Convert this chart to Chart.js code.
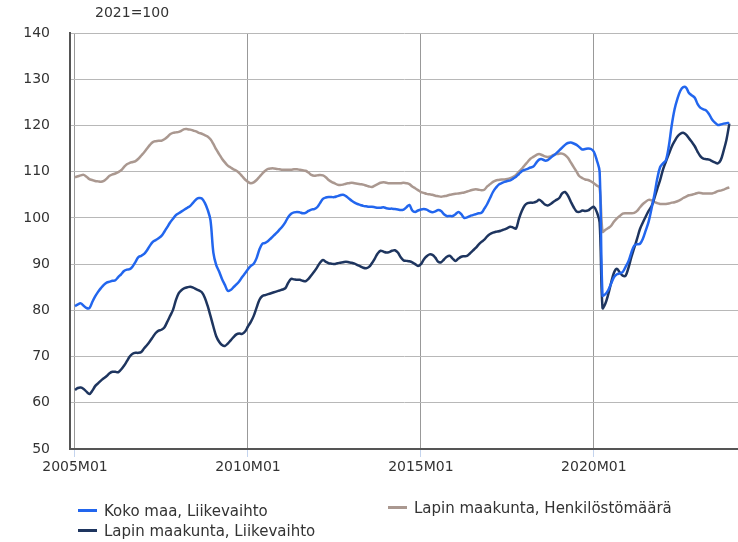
<!DOCTYPE html>
<html>
<head>
<meta charset="utf-8">
<script src="https://cdn.jsdelivr.net/npm/chart.js@4/dist/chart.umd.min.js"></script>
<style>
  body { margin: 0; background: #fff; font-family: "DejaVu Sans", sans-serif; color: #333; }
  #wrap { position: relative; width: 738px; height: 542px; overflow: hidden; }
  #base { position: absolute; left: 95px; top: 4px; font-size: 14px; }
  .item { position: absolute; font-size: 15px; line-height: 18px; white-space: nowrap; }
  .item span { display: inline-block; width: 19px; height: 3px; margin-right: 7px; vertical-align: middle; position: relative; top: -1px; }
</style>
</head>
<body>
<div id="wrap">
  <canvas id="chart" width="738" height="542"></canvas>
  <div id="base">2021=100</div>
  <div id="legend"></div>
</div>
<script>
// monthly index values 2005M01 - 2023M12 (2021=100)
const kokoMaaLiikevaihto = [
  80.9, 81.3, 81.5, 81.0, 80.5, 80.5, 81.8, 83.0, 84.0, 84.8, 85.5, 86.0,
  86.2, 86.4, 86.5, 87.2, 87.8, 88.5, 88.8, 88.9, 89.5, 90.5, 91.5, 91.8,
  92.2, 93.0, 94.0, 94.8, 95.2, 95.6, 96.1, 97.0, 98.0, 99.0, 99.8, 100.6,
  101.0, 101.4, 101.8, 102.2, 102.6, 103.3, 104.0, 104.3, 104.2, 103.3, 101.8, 99.5,
  92.5, 89.8, 88.4, 86.8, 85.5, 84.2, 84.4, 85.0, 85.6, 86.3, 87.2, 88.0,
  88.9, 89.6, 90.1, 91.3, 93.2, 94.4, 94.6, 95.0, 95.6, 96.2, 96.8, 97.5,
  98.2, 99.1, 100.2, 100.9, 101.2, 101.3, 101.2, 101.0, 101.1, 101.5, 101.8, 101.9,
  102.3, 103.2, 104.1, 104.4, 104.5, 104.5, 104.5, 104.7, 104.9, 105.0, 104.7, 104.2,
  103.7, 103.3, 103.0, 102.8, 102.6, 102.5, 102.4, 102.4, 102.3, 102.2, 102.2, 102.3,
  102.1, 102.0, 102.0, 101.9, 101.8, 101.7, 101.8, 102.3, 102.8, 101.6, 101.3, 101.6,
  101.8, 101.9, 101.8, 101.4, 101.2, 101.4, 101.7, 101.5, 100.8, 100.4, 100.4, 100.4,
  100.8, 101.3, 100.8, 100.0, 100.1, 100.4, 100.6, 100.8, 101.0, 101.1, 102.0, 103.0,
  104.3, 105.6, 106.5, 107.2, 107.5, 107.8, 108.0, 108.1, 108.5, 108.9, 109.5, 110.1,
  110.4, 110.6, 110.9, 111.1, 111.9, 112.6, 112.7, 112.4, 112.5, 113.0, 113.5, 114.0,
  114.6, 115.2, 115.8, 116.2, 116.3, 116.1, 115.8, 115.3, 114.8, 114.9, 115.0, 114.9,
  114.3, 112.5, 110.0, 83.2, 83.5, 84.4, 85.8, 87.2, 87.8, 88.0, 88.3, 89.4,
  90.6, 92.5, 94.0, 94.3, 94.4, 95.5, 97.3, 99.2, 102.0, 105.0, 108.5, 111.0,
  111.8, 112.5, 115.5, 120.0, 123.5, 125.8, 127.5, 128.3, 128.2, 127.0, 126.5, 126.0,
  124.6, 123.8, 123.5, 123.2, 122.4, 121.3, 120.6, 120.1, 120.2, 120.4, 120.5, 120.5,
];

const lappiLiikevaihto = [
  62.8, 63.2, 63.3, 63.0, 62.4, 61.9, 62.6, 63.6, 64.2, 64.8, 65.3, 65.8,
  66.4, 66.7, 66.7, 66.6, 67.2, 68.0, 69.0, 70.0, 70.6, 70.8, 70.8, 71.0,
  71.8, 72.5, 73.3, 74.2, 75.1, 75.6, 75.8, 76.3, 77.5, 78.8, 80.1, 82.2,
  83.7, 84.4, 84.8, 85.0, 85.1, 84.9, 84.6, 84.3, 83.9, 82.8, 81.0, 78.8,
  76.5, 74.4, 73.2, 72.5, 72.3, 72.8, 73.5, 74.2, 74.8, 75.0, 74.9, 75.4,
  76.5, 77.5, 78.8, 80.6, 82.3, 83.1, 83.3, 83.5, 83.7, 83.9, 84.1, 84.3,
  84.5, 84.8, 86.0, 86.8, 86.7, 86.6, 86.6, 86.4, 86.3, 86.8, 87.6, 88.4,
  89.3, 90.3, 90.9, 90.5, 90.2, 90.1, 90.0, 90.2, 90.3, 90.4, 90.5, 90.4,
  90.3, 90.1, 89.8, 89.5, 89.2, 89.1, 89.4, 90.2, 91.2, 92.3, 92.9, 92.7,
  92.5, 92.6, 92.9, 93.0, 92.5, 91.5, 90.8, 90.7, 90.6, 90.4, 90.0, 89.6,
  90.0, 91.0, 91.7, 92.1, 92.0, 91.4, 90.5, 90.4, 91.0, 91.6, 91.8, 91.2,
  90.7, 91.2, 91.6, 91.7, 91.8, 92.3, 92.9, 93.5, 94.2, 94.8, 95.3, 96.0,
  96.5, 96.8, 97.0, 97.1, 97.3, 97.5, 97.8, 98.1, 97.9, 97.7, 99.8, 101.5,
  102.7, 103.2, 103.3, 103.3, 103.5, 103.9, 103.5, 102.9, 102.7, 103.0, 103.5, 103.9,
  104.3, 105.3, 105.6, 104.8, 103.5, 102.3, 101.4, 101.3, 101.6, 101.5, 101.6, 102.1,
  102.4, 101.3, 99.0, 80.5, 81.5, 83.5, 86.0, 88.2, 89.0, 88.2, 87.5, 87.5,
  89.2, 91.5, 93.5, 95.5, 97.6, 99.0, 100.3, 101.5, 102.5, 104.3, 106.3, 108.2,
  110.5, 112.2, 113.8, 115.4, 116.6, 117.6, 118.2, 118.4, 118.0, 117.2, 116.4, 115.5,
  114.3, 113.3, 112.8, 112.7, 112.6, 112.3, 112.0, 111.8, 112.5, 114.5, 116.9, 120.4,
];

const lappiHenkilosto = [
  108.8, 109.0, 109.2, 109.3, 108.9, 108.4, 108.2, 108.0, 107.9, 107.8, 108.0, 108.5,
  109.1, 109.4, 109.6, 109.9, 110.3, 111.0, 111.6, 111.9, 112.1, 112.3, 112.8, 113.5,
  114.2, 115.0, 115.8, 116.4, 116.6, 116.7, 116.7, 117.0, 117.5, 118.1, 118.4, 118.5,
  118.6, 118.9, 119.2, 119.2, 119.1, 118.9, 118.7, 118.4, 118.2, 117.9, 117.6, 117.0,
  116.0, 114.8, 113.8, 112.8, 112.0, 111.3, 110.9, 110.5, 110.2, 109.7, 109.0, 108.3,
  107.8, 107.5, 107.7, 108.2, 108.9, 109.6, 110.2, 110.6, 110.7, 110.7, 110.6, 110.5,
  110.4, 110.4, 110.4, 110.4, 110.5, 110.5, 110.4, 110.3, 110.2, 109.8, 109.3, 109.1,
  109.2, 109.3, 109.2, 108.8, 108.2, 107.8, 107.5, 107.2, 107.1, 107.2, 107.4, 107.5,
  107.6, 107.5, 107.4, 107.3, 107.2, 107.0, 106.8, 106.7, 107.0, 107.3, 107.6, 107.7,
  107.6, 107.5, 107.5, 107.5, 107.5, 107.5, 107.6, 107.5, 107.3, 106.8, 106.4, 106.0,
  105.6, 105.4, 105.2, 105.1, 105.0, 104.8, 104.7, 104.6, 104.7, 104.8, 105.0, 105.1,
  105.2, 105.3, 105.4, 105.5, 105.7, 105.9, 106.1, 106.2, 106.1, 106.0, 106.1, 106.8,
  107.3, 107.8, 108.1, 108.2, 108.3, 108.3, 108.4, 108.6, 108.9, 109.3, 110.0, 110.6,
  111.4, 112.1, 112.8, 113.2, 113.6, 113.8, 113.6, 113.3, 113.2, 113.3, 113.6, 113.8,
  113.9, 113.9, 113.6, 113.0, 112.0, 111.0, 110.0, 109.0, 108.6, 108.3, 108.2, 107.9,
  107.5, 107.0, 106.5, 97.0, 97.4, 97.8, 98.3, 99.2, 99.9, 100.4, 100.9, 101.0,
  101.0, 101.0, 101.1, 101.5, 102.3, 103.0, 103.5, 103.9, 103.8, 103.4, 103.2, 103.0,
  103.0, 103.0, 103.1, 103.3, 103.4, 103.6, 103.9, 104.3, 104.6, 104.9, 105.0, 105.2,
  105.4, 105.4, 105.3, 105.3, 105.3, 105.3, 105.5, 105.8, 105.9, 106.1, 106.4, 106.6,
];

const seriesNames = [
  "Koko maa, Liikevaihto",
  "Lapin maakunta, Liikevaihto",
  "Lapin maakunta, Henkilöstömäärä",
];

// month index of each x tick (0 = 2005M01)
const tickMonths = [0, 60, 120, 180];
const tickLabels = ["2005M01", "2010M01", "2015M01", "2020M01"];

const colors = {
  blue: "#2266ee",
  navy: "#1e355f",
  taupe: "#aa9890",
  text: "#333333",
  axis: "#555555",
  grid: "#b8b8b8",
  vgrid: "#999999",
  tick: "#c4d4ee",
};

function toPoints(values) {
  return values.map((v, i) => ({ x: i, y: v }));
}

function lineSet(label, values, color) {
  return {
    label: label,
    data: toPoints(values),
    borderColor: color,
    backgroundColor: color,
    borderWidth: 2.5,
    pointRadius: 0,
    tension: 0.35,
    fill: false,
  };
}

const ctx = document.getElementById("chart").getContext("2d");
const chart = new Chart(ctx, {
  type: "line",
  data: {
    datasets: [
      lineSet(seriesNames[0], kokoMaaLiikevaihto, colors.blue),
      lineSet(seriesNames[1], lappiLiikevaihto, colors.navy),
      lineSet(seriesNames[2], lappiHenkilosto, colors.taupe),
    ],
  },
  options: {
    responsive: false,
    animation: false,
    layout: { padding: { top: 33, right: 0, bottom: 63, left: 0 } },
    plugins: {
      legend: { display: false },
      tooltip: { enabled: false },
    },
    scales: {
      x: {
        type: "linear",
        min: -1.73,
        max: 230,
        afterBuildTicks: (scale) => {
          scale.ticks = tickMonths.map((m) => ({ value: m }));
        },
        afterFit: (scale) => {
          scale.height = 30;
        },
        ticks: {
          autoSkip: false,
          maxRotation: 0,
          padding: 2,
          color: colors.text,
          font: { family: "DejaVu Sans", size: 14 },
          callback: (value) => tickLabels[tickMonths.indexOf(value)],
        },
        grid: {
          color: colors.vgrid,
          tickColor: colors.tick,
          tickLength: 8,
        },
        border: { color: colors.axis, width: 2 },
      },
      y: {
        min: 50,
        max: 140,
        afterFit: (scale) => {
          scale.width = 70;
        },
        ticks: {
          stepSize: 10,
          padding: 20,
          color: colors.text,
          font: { family: "DejaVu Sans", size: 14 },
        },
        grid: { color: colors.grid, drawTicks: false },
        border: { color: colors.axis, width: 2 },
      },
    },
  },
});

// legend laid out like the original: two rows on the left, one on the right
const legendSpots = [
  { left: 78, top: 502 },
  { left: 78, top: 522 },
  { left: 388, top: 499 },
];
const legend = document.getElementById("legend");
chart.data.datasets.forEach((ds, i) => {
  const item = document.createElement("div");
  item.className = "item";
  item.style.left = legendSpots[i].left + "px";
  item.style.top = legendSpots[i].top + "px";
  item.innerHTML = `<span style="background:${ds.borderColor}"></span>${ds.label}`;
  legend.appendChild(item);
});
</script>
</body>
</html>
